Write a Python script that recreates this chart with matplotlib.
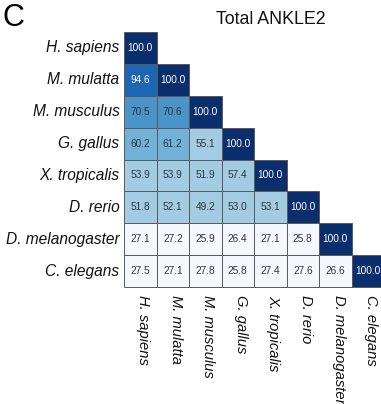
import numpy as np
import matplotlib
matplotlib.use("Agg")
import matplotlib.pyplot as plt
from matplotlib.colors import ListedColormap, BoundaryNorm
from matplotlib.patches import Rectangle

plt.rcParams['font.family'] = ['Liberation Sans', 'DejaVu Sans']

species = ["H. sapiens", "M. mulatta", "M. musculus", "G. gallus",
           "X. tropicalis", "D. rerio", "D. melanogaster", "C. elegans"]

# percent identity, lower triangle row by row
identity = [
    [100.0],
    [94.6, 100.0],
    [70.5, 70.6, 100.0],
    [60.2, 61.2, 55.1, 100.0],
    [53.9, 53.9, 51.9, 57.4, 100.0],
    [51.8, 52.1, 49.2, 53.0, 53.1, 100.0],
    [27.1, 27.2, 25.9, 26.4, 27.1, 25.8, 100.0],
    [27.5, 27.1, 27.8, 25.8, 27.4, 27.6, 26.6, 100.0],
]

n = len(species)

# stepped blue scale
levels = [0, 45, 60, 70, 90, 99.95, 101]
colors = ["#f4f8fc", "#a2cce3", "#72b2d8", "#4b94c9", "#1d66b3", "#0b2f6c"]
cmap = ListedColormap(colors)
norm = BoundaryNorm(levels, cmap.N)

fig = plt.figure(figsize=(3.81, 4.04), dpi=100)
W, H = 381, 404
ax = fig.add_axes([124 / W, (H - 287) / H, 260 / W, 255 / H])
ax.set_xlim(0, n)
ax.set_ylim(n, 0)
for s in ax.spines.values():
    s.set_visible(False)
ax.set_xticks([])
ax.set_yticks([])

for i, row in enumerate(identity):
    for j, v in enumerate(row):
        ax.add_patch(Rectangle((j, i), 1, 1, facecolor=cmap(norm(v)),
                               edgecolor="#5a5a5a", linewidth=0.7, clip_on=False))
        tc = "white" if v >= 90 else "#333333"
        ax.text(j + 0.5, i + 0.5, "%.1f" % v, ha="center", va="center",
                fontsize=7.3, color=tc)

for i, name in enumerate(species):
    ax.text(-0.14, i + 0.5, name, ha="right", va="center", fontsize=11.2,
            style="italic", color="#111111")
    ax.text(i + 0.6, n + 0.25, name, ha="center", va="top", fontsize=10.6,
            style="italic", rotation=-90, color="#111111")

fig.text(271 / W, 1 - 19 / H, "Total ANKLE2", ha="center", va="center",
         fontsize=12.8, color="#111111")
fig.text(2 / W, 1 - 18 / H, "C", ha="left", va="center", fontsize=22)

fig.savefig("out.png", dpi=100)
